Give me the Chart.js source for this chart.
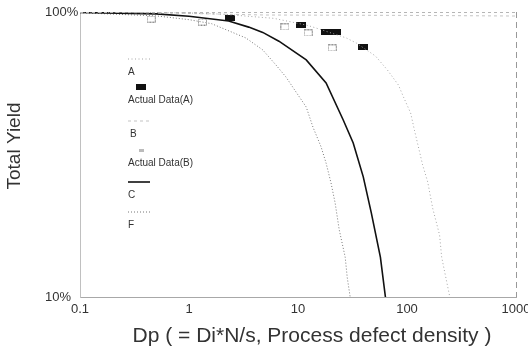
<!DOCTYPE html>
<html><head><meta charset="utf-8">
<style>html,body{margin:0;padding:0;background:#fff;}#wrap{width:528px;height:349px;}</style>
<script src="https://cdn.jsdelivr.net/npm/chart.js@4.4.0/dist/chart.umd.min.js"></script>
</head><body><div id="wrap"><canvas id="c" width="528" height="349"></canvas></div>
<script>
// ---- data ----
const xTickValues = [0.1, 1, 10, 100, 1000];
const xTickLabels = ['0.1', '1', '10', '100', '1000'];
const yTickValues = [10, 100];
const yTickLabels = ['10%', '100%'];
const seriesNames = ['A', 'Actual Data(A)', 'B', 'Actual Data(B)', 'C', 'F'];
const xTitle = 'Dp ( = Di*N/s, Process defect density )';
const yTitle = 'Total Yield';

const curveA_x = [0.1, 0.5, 1, 2, 4, 6, 11.9, 14.6, 27.7, 34.3, 51.3, 66.1, 83.5, 92.9, 108, 117, 128, 139, 155, 172, 199, 208, 247];
const curveA_y = [99.9, 99.6, 99.2, 98.3, 96.2, 95.0, 90.0, 87.9, 81.1, 77.8, 70.1, 62.6, 55.4, 50.3, 44.2, 38.5, 33.3, 29.1, 25.3, 20.5, 16.5, 13.8, 10];
const actualA_x = [2.36, 10.7, 18.1, 22.4, 39.7];
const actualA_y = [95.3, 90.0, 85.1, 85.1, 75.4];
const curveB_x = [0.1, 0.3, 1, 5, 100, 1000];
const curveB_y = [100, 99.5, 98.8, 97.6, 97.3, 96.8];
const actualB_x = [0.45, 1.33, 7.59, 12.4, 20.6];
const actualB_y = [94.5, 92.2, 88.6, 84.4, 74.8];
const curveC_x = [0.1, 0.5, 1, 2.31, 3.53, 4.75, 6.68, 11.9, 18.1, 26, 32.1, 39.7, 47.1, 57, 63.4];
const curveC_y = [99.7, 98.5, 96.6, 93.0, 88.5, 84.8, 79.0, 67.9, 56.4, 41.8, 34.7, 26.4, 19.7, 13.8, 10];
const curveF_x = [0.1, 0.5, 1, 1.61, 3.32, 4.75, 6.27, 7.74, 9.59, 11.9, 13.7, 16.3, 18.1, 20.1, 21.9, 23.9, 27.1, 28.3, 30.1];
const curveF_y = [99.4, 96.9, 94.0, 91.0, 81.1, 73.6, 65.2, 59.2, 52.4, 46.4, 39.5, 33.6, 29.5, 25.1, 21.4, 17.2, 13.8, 11.7, 10];

const pts = (xs, ys) => xs.map((x, i) => ({x: x, y: ys[i]}));

// ---- marker images ----
function makeMarker(w, h, draw) {
  const c = document.createElement('canvas'); c.width = w; c.height = h;
  draw(c.getContext('2d'), w, h); return c;
}
const blackRect = makeMarker(10, 6, (g, w, h) => { g.fillStyle = '#111'; g.fillRect(0, 0, w, h); });
const openRect = makeMarker(9, 7, (g, w, h) => {
  g.strokeStyle = '#8a8a8a'; g.lineWidth = 1; g.setLineDash([2, 1]); g.strokeRect(0.5, 0.5, w - 1, h - 1);
});
const smallOpen = makeMarker(5, 3, (g, w, h) => { g.fillStyle = '#bbb'; g.fillRect(0, 0, w, h); });

const FONT = "'Liberation Sans', Arial, Helvetica, sans-serif";

const datasets = [
  {label: seriesNames[0], data: pts(curveA_x, curveA_y), showLine: true, borderColor: '#a5a5a5', borderWidth: 1, borderDash: [1, 2.5], pointRadius: 0},
  {label: seriesNames[1], data: pts(actualA_x, actualA_y), showLine: false, pointStyle: blackRect, pointRadius: 4},
  {label: seriesNames[2], data: pts(curveB_x, curveB_y), showLine: true, borderColor: '#c4c4c4', borderWidth: 1, borderDash: [3, 3], pointRadius: 0},
  {label: seriesNames[3], data: pts(actualB_x, actualB_y), showLine: false, pointStyle: openRect, pointRadius: 4},
  {label: seriesNames[4], data: pts(curveC_x, curveC_y), showLine: true, borderColor: '#111', borderWidth: 1.6, pointRadius: 0},
  {label: seriesNames[5], data: pts(curveF_x, curveF_y), showLine: true, borderColor: '#777', borderWidth: 1, borderDash: [1, 2], pointRadius: 0}
];

const legendLabelY = [72, 100, 134, 163, 195, 225];

const decor = {
  id: 'decor',
  afterDatasetsDraw(chart) {
    const g = chart.ctx, a = chart.chartArea;
    g.save();
    // top and right frame
    g.strokeStyle = '#b5b5b5'; g.lineWidth = 1; g.setLineDash([3, 3]);
    g.beginPath(); g.moveTo(a.left, a.top + 0.5); g.lineTo(a.right, a.top + 0.5); g.stroke();
    g.strokeStyle = '#999'; g.setLineDash([6, 4]);
    g.beginPath(); g.moveTo(a.right + 0.5, a.top); g.lineTo(a.right + 0.5, a.bottom); g.stroke();
    g.setLineDash([]);
    // titles
    g.fillStyle = '#333';
    g.font = '21px ' + FONT; g.textAlign = 'center'; g.textBaseline = 'middle';
    g.fillText(xTitle, 312, 336);
    g.save(); g.translate(15, 146); g.rotate(-Math.PI / 2);
    g.font = '19px ' + FONT; g.fillText(yTitle, 0, 0); g.restore();
    // legend
    g.font = '10px ' + FONT; g.textAlign = 'left';
    const lx = 128;
    chart.data.datasets.forEach((ds, i) => {
      const ly = legendLabelY[i];
      const sy = ly - 13;
      g.fillStyle = '#333';
      g.fillText(ds.label, lx + (i === 2 ? 2 : 0), ly);
      if (ds.showLine) {
        g.strokeStyle = ds.borderColor; g.lineWidth = ds.borderWidth;
        g.setLineDash(ds.borderDash || []);
        g.beginPath(); g.moveTo(lx, sy); g.lineTo(lx + 22, sy); g.stroke();
        g.setLineDash([]);
      } else {
        const img = (i === 1) ? blackRect : smallOpen;
        g.drawImage(img, lx + 13 - img.width / 2, sy - img.height / 2);
      }
    });
    g.restore();
  }
};

new Chart(document.getElementById('c'), {
  type: 'scatter',
  data: {datasets: datasets},
  options: {
    responsive: false, animation: false, devicePixelRatio: 1,
    layout: {padding: {left: 45, right: 12, top: 12, bottom: 0}},
    plugins: {legend: {display: false}, tooltip: {enabled: false}},
    scales: {
      x: {
        type: 'logarithmic', min: 0.1, max: 1000, position: 'bottom',
        grid: {display: false, drawTicks: false},
        border: {display: true, color: '#a8a8a8', dash: [2, 3], width: 1},
        afterBuildTicks: s => { s.ticks = xTickValues.map(v => ({value: v})); },
        ticks: {font: {size: 13, family: FONT}, color: '#333', padding: 5, maxRotation: 0, autoSkip: false,
          callback: (v) => { const k = xTickValues.indexOf(v); return k >= 0 ? xTickLabels[k] : ''; }},
        afterFit: s => { s.height = 52; s.paddingLeft = 0; s.paddingRight = 0; }
      },
      y: {
        type: 'logarithmic', min: 10, max: 100,
        grid: {display: false, drawTicks: false},
        border: {display: true, color: '#c0c0c0', dash: [1, 3], width: 1},
        afterBuildTicks: s => { s.ticks = yTickValues.map(v => ({value: v})); },
        ticks: {font: {size: 13, family: FONT}, color: '#333', crossAlign: 'far', padding: 2,
          callback: (v) => { const k = yTickValues.indexOf(v); return k >= 0 ? yTickLabels[k] : ''; }},
        afterFit: s => { s.width = 35; }
      }
    }
  },
  plugins: [decor]
});
</script></body></html>
